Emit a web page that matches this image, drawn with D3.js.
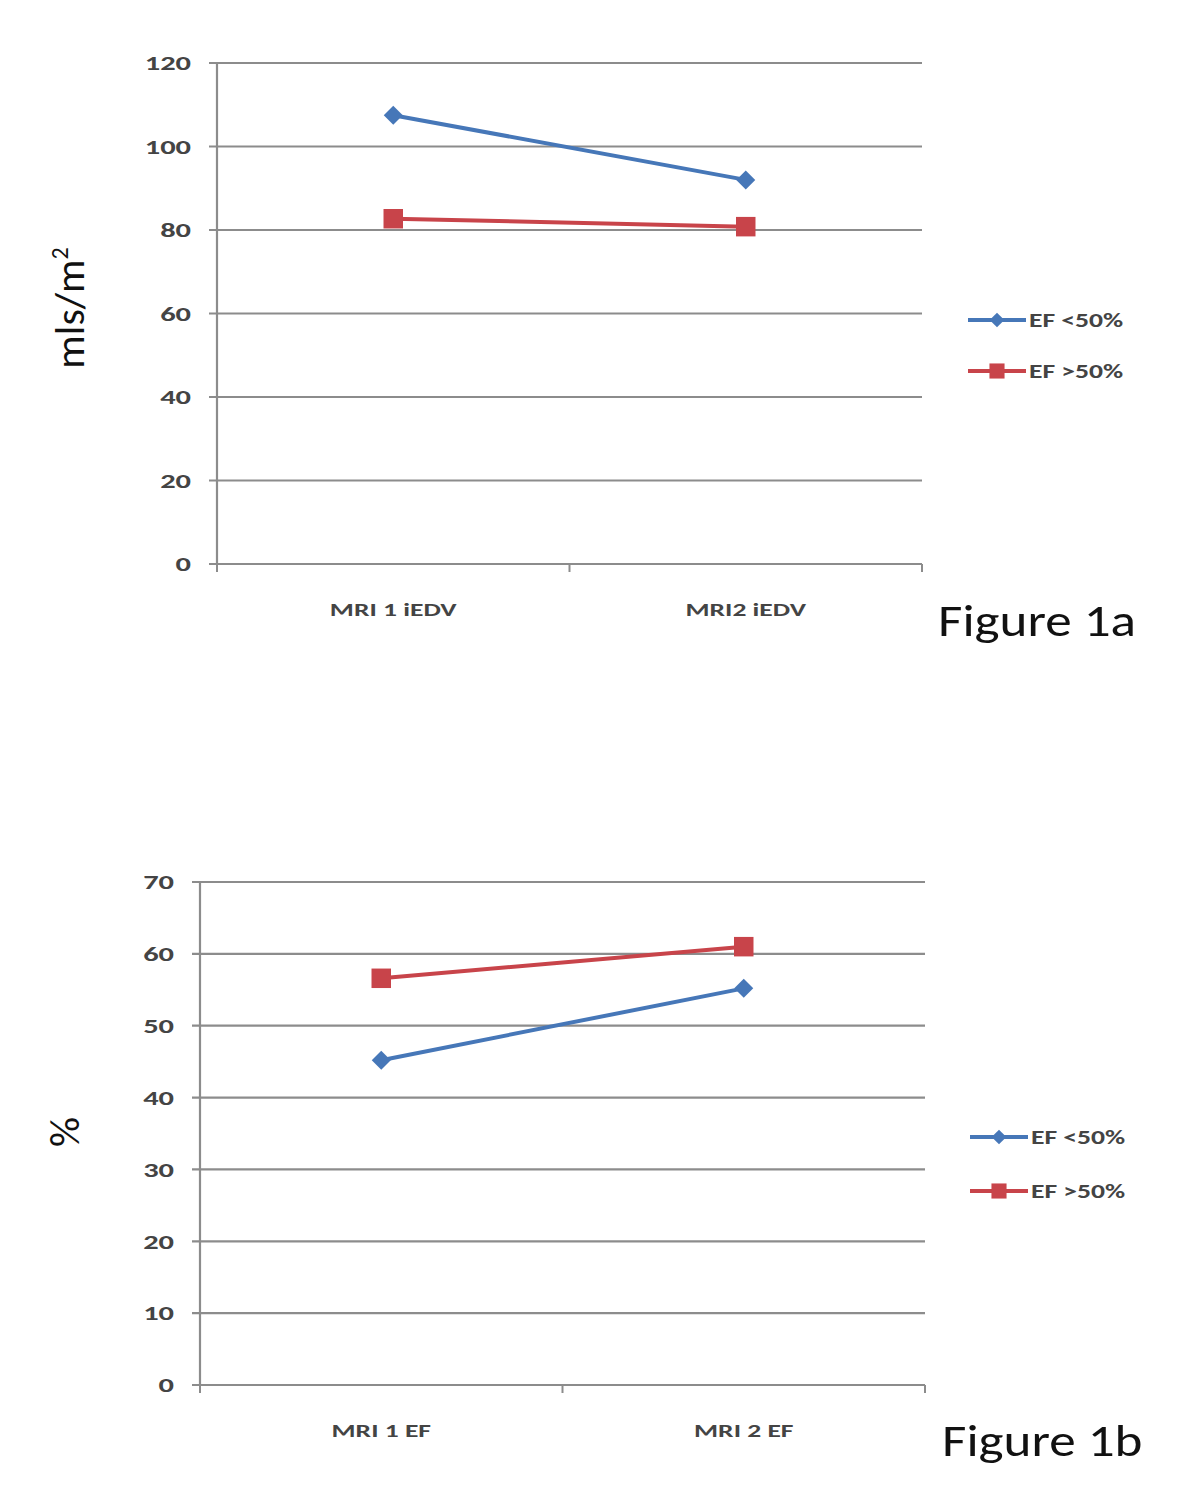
<!DOCTYPE html>
<html>
<head>
<meta charset="utf-8">
<script src="https://cdn.jsdelivr.net/npm/d3@7"></script>
<style>
  body { margin: 0; background: #fff; }
  svg text { font-family: Calibri, Carlito, Lato, sans-serif; }
</style>
</head>
<body>
<div id="chart"></div>
<script>
// Figure 1a - iEDV
const catsA = ['MRI 1 iEDV', 'MRI2 iEDV'];
const ticksA = [0, 20, 40, 60, 80, 100, 120];
const lowA = [107.5, 92];
const highA = [82.7, 80.8];

// Figure 1b - EF
const catsB = ['MRI 1 EF', 'MRI 2 EF'];
const ticksB = [0, 10, 20, 30, 40, 50, 60, 70];
const lowB = [45.2, 55.2];
const highB = [56.6, 61];

const seriesNames = ['EF <50%', 'EF >50%'];
const blue = '#4677b8', red = '#c8444a';

// the source picture is stretched sideways, so small text gets widened too
const stretch = 1.45;

const svg = d3.select('#chart').append('svg')
    .attr('width', 1200)
    .attr('height', 1488);

function label(g, tx, ty, txt, size, anchor, sx) {
    return g.append('text')
        .attr('transform', `translate(${tx},${ty}) scale(${sx || stretch},1)`)
        .attr('dy', '0.35em')
        .attr('text-anchor', anchor)
        .attr('font-size', size)
        .attr('font-weight', 'bold')
        .attr('fill', '#444')
        .text(txt);
}

// draws one panel
function drawPanel(cfg) {
    const g = svg.append('g');
    const x = d3.scaleBand().domain(cfg.cats).range([cfg.x0, cfg.x1]);
    const y = d3.scaleLinear().domain([0, d3.max(cfg.ticks)]).range([cfg.y0, cfg.y1]);

    // gridlines
    g.selectAll('line.grid')
        .data(cfg.ticks)
        .enter().append('line')
        .attr('x1', cfg.x0 - 8)
        .attr('x2', cfg.x1)
        .attr('y1', d => y(d))
        .attr('y2', d => y(d))
        .attr('stroke', '#8c8c8c')
        .attr('stroke-width', 2.2);

    // y axis line
    g.append('line')
        .attr('x1', cfg.x0).attr('x2', cfg.x0)
        .attr('y1', cfg.y0).attr('y2', cfg.y1)
        .attr('stroke', '#8c8c8c').attr('stroke-width', 2.2);

    // x category tick marks
    [cfg.x0, (cfg.x0 + cfg.x1) / 2, cfg.x1].forEach(tx => {
        g.append('line')
            .attr('x1', tx).attr('x2', tx)
            .attr('y1', cfg.y0).attr('y2', cfg.y0 + 8)
            .attr('stroke', '#8c8c8c').attr('stroke-width', 2);
    });

    // y tick labels
    cfg.ticks.forEach(t => label(g, cfg.x0 - 26, y(t), t, 21, 'end'));

    // x category labels
    cfg.cats.forEach(c => label(g, x(c) + x.bandwidth() / 2, cfg.y0 + 45, c, 19, 'middle'));

    // y title
    g.append('text')
        .attr('transform', `translate(${cfg.titleX},${cfg.titleY}) rotate(-90)`)
        .attr('text-anchor', 'middle')
        .attr('font-size', 42)
        .attr('fill', '#111')
        .html(cfg.yTitle);

    // figure label
    g.append('text')
        .attr('transform', `translate(${cfg.figX},${cfg.figY}) scale(1.18,1)`)
        .attr('font-size', 45)
        .attr('fill', '#111')
        .text(cfg.figLabel);

    const line = d3.line()
        .x((d, i) => x(cfg.cats[i]) + x.bandwidth() / 2)
        .y(d => y(d));

    const series = [
        { name: seriesNames[0], values: cfg.low, color: blue, shape: d3.symbolDiamond2, size: 230 },
        { name: seriesNames[1], values: cfg.high, color: red, shape: d3.symbolSquare, size: 380 }
    ];

    series.forEach(s => {
        g.append('path')
            .datum(s.values)
            .attr('d', line)
            .attr('fill', 'none')
            .attr('stroke', s.color)
            .attr('stroke-width', 4);
        g.selectAll(null)
            .data(s.values)
            .enter().append('path')
            .attr('transform', (d, i) => `translate(${x(cfg.cats[i]) + x.bandwidth() / 2},${y(d)})`)
            .attr('d', d3.symbol().type(s.shape).size(s.size))
            .attr('fill', s.color);
    });

    // legend
    series.forEach((s, i) => {
        const ly = cfg.legY + i * cfg.legGap;
        g.append('line')
            .attr('x1', cfg.legX).attr('x2', cfg.legX + 58)
            .attr('y1', ly).attr('y2', ly)
            .attr('stroke', s.color).attr('stroke-width', 4);
        g.append('path')
            .attr('transform', `translate(${cfg.legX + 29},${ly})`)
            .attr('d', d3.symbol().type(s.shape).size(s.size * 0.6))
            .attr('fill', s.color);
        label(g, cfg.legX + 61, ly, s.name, 20, 'start', 1.38);
    });
}

drawPanel({
    cats: catsA, ticks: ticksA, low: lowA, high: highA,
    x0: 217, x1: 922, y0: 564, y1: 63,
    yTitle: 'mls/m<tspan dy="-16" font-size="24">2</tspan>',
    titleX: 84, titleY: 308,
    figLabel: 'Figure 1a', figX: 938, figY: 636,
    legX: 968, legY: 320, legGap: 51
});

drawPanel({
    cats: catsB, ticks: ticksB, low: lowB, high: highB,
    x0: 200, x1: 925, y0: 1385, y1: 882,
    yTitle: '%',
    titleX: 79, titleY: 1132,
    figLabel: 'Figure 1b', figX: 942, figY: 1456,
    legX: 970, legY: 1137, legGap: 54
});
</script>
</body>
</html>
